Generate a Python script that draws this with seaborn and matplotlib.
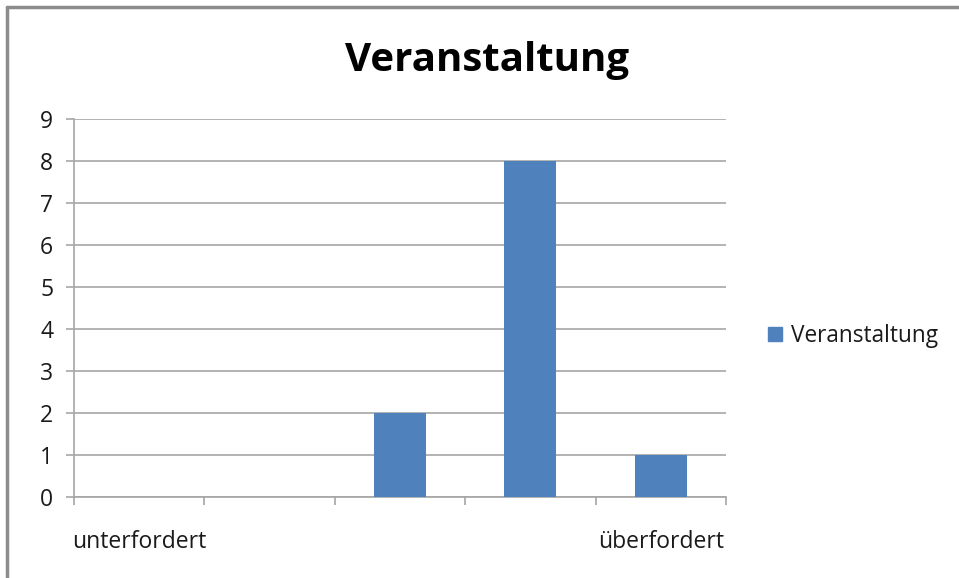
import seaborn as sns
import matplotlib.pyplot as plt
import matplotlib.ticker as mticker
from matplotlib.lines import Line2D
import pandas as pd

categories = ["1", "2", "3", "4", "5"]
values = [0, 0, 2, 8, 1]
end_labels = ["unterfordert", "", "", "", "überfordert"]
series_name = "Veranstaltung"
title = "Veranstaltung"

sns.set_theme(style="white")
plt.rcParams["font.family"] = ["Open Sans", "DejaVu Sans"]

df = pd.DataFrame({"cat": categories, "val": values, "series": series_name})

fig = plt.figure(figsize=(9.59, 5.78), dpi=100)
ax = fig.add_axes([74 / 959, 81 / 578, 652 / 959, 378 / 578])

grid_c = "#a6a6a6"
text_c = "#1a1a1a"
sns.barplot(data=df, x="cat", y="val", hue="series", palette=["#4F81BD"],
            saturation=1, width=0.4, linewidth=0, ax=ax, legend=False, zorder=3)

ax.set_ylim(0, 9)
ax.set_xlim(-0.5, len(categories) - 0.5)
ax.yaxis.set_major_locator(mticker.MultipleLocator(1))
ax.grid(axis="y", color=grid_c, linewidth=1.2, zorder=0)
ax.set_axisbelow(True)

# category boundaries get tick marks, centres carry the labels
ax.set_xticks([i - 0.5 for i in range(len(categories) + 1)])
ax.set_xticklabels([])
ax.set_xticks(range(len(categories)), minor=True)
ax.set_xticklabels(end_labels, minor=True, fontsize=16.5, color=text_c)
ax.tick_params(axis="x", which="major", length=6, width=1.2, color=grid_c,
               direction="out", bottom=True)
ax.tick_params(axis="x", which="minor", length=0, pad=24)
ax.tick_params(axis="y", length=6, width=1.2, color=grid_c, direction="out",
               left=True, labelsize=16.5, labelcolor=text_c, pad=9)
ax.set_xlabel("")
ax.set_ylabel("")

for side in ["top", "right"]:
    ax.spines[side].set_visible(False)
for side in ["left", "bottom"]:
    ax.spines[side].set_color(grid_c)
    ax.spines[side].set_linewidth(1.2)

fig.text(487 / 959, 1 - 60 / 578, title, ha="center", va="center",
         fontsize=29, fontweight="bold", color="black")

handle = Line2D([0], [0], marker="s", linestyle="", markersize=10,
                markerfacecolor="#4F81BD", markeredgecolor="#4F81BD")
fig.legend([handle], [series_name], loc="center left",
           bbox_to_anchor=(741 / 959, 1 - 336 / 578), frameon=False,
           fontsize=16.3, handletextpad=0.1, handlelength=1.2,
           labelcolor=text_c)

# outer frame on top and left edge
fig.add_artist(Line2D([7 / 959, 1], [1 - 7 / 578] * 2, transform=fig.transFigure,
                      color="#8c8c8c", linewidth=2.5))
fig.add_artist(Line2D([7 / 959] * 2, [0, 1 - 7 / 578], transform=fig.transFigure,
                      color="#8c8c8c", linewidth=2.5))

fig.savefig("out.png", dpi=100, facecolor="white")
